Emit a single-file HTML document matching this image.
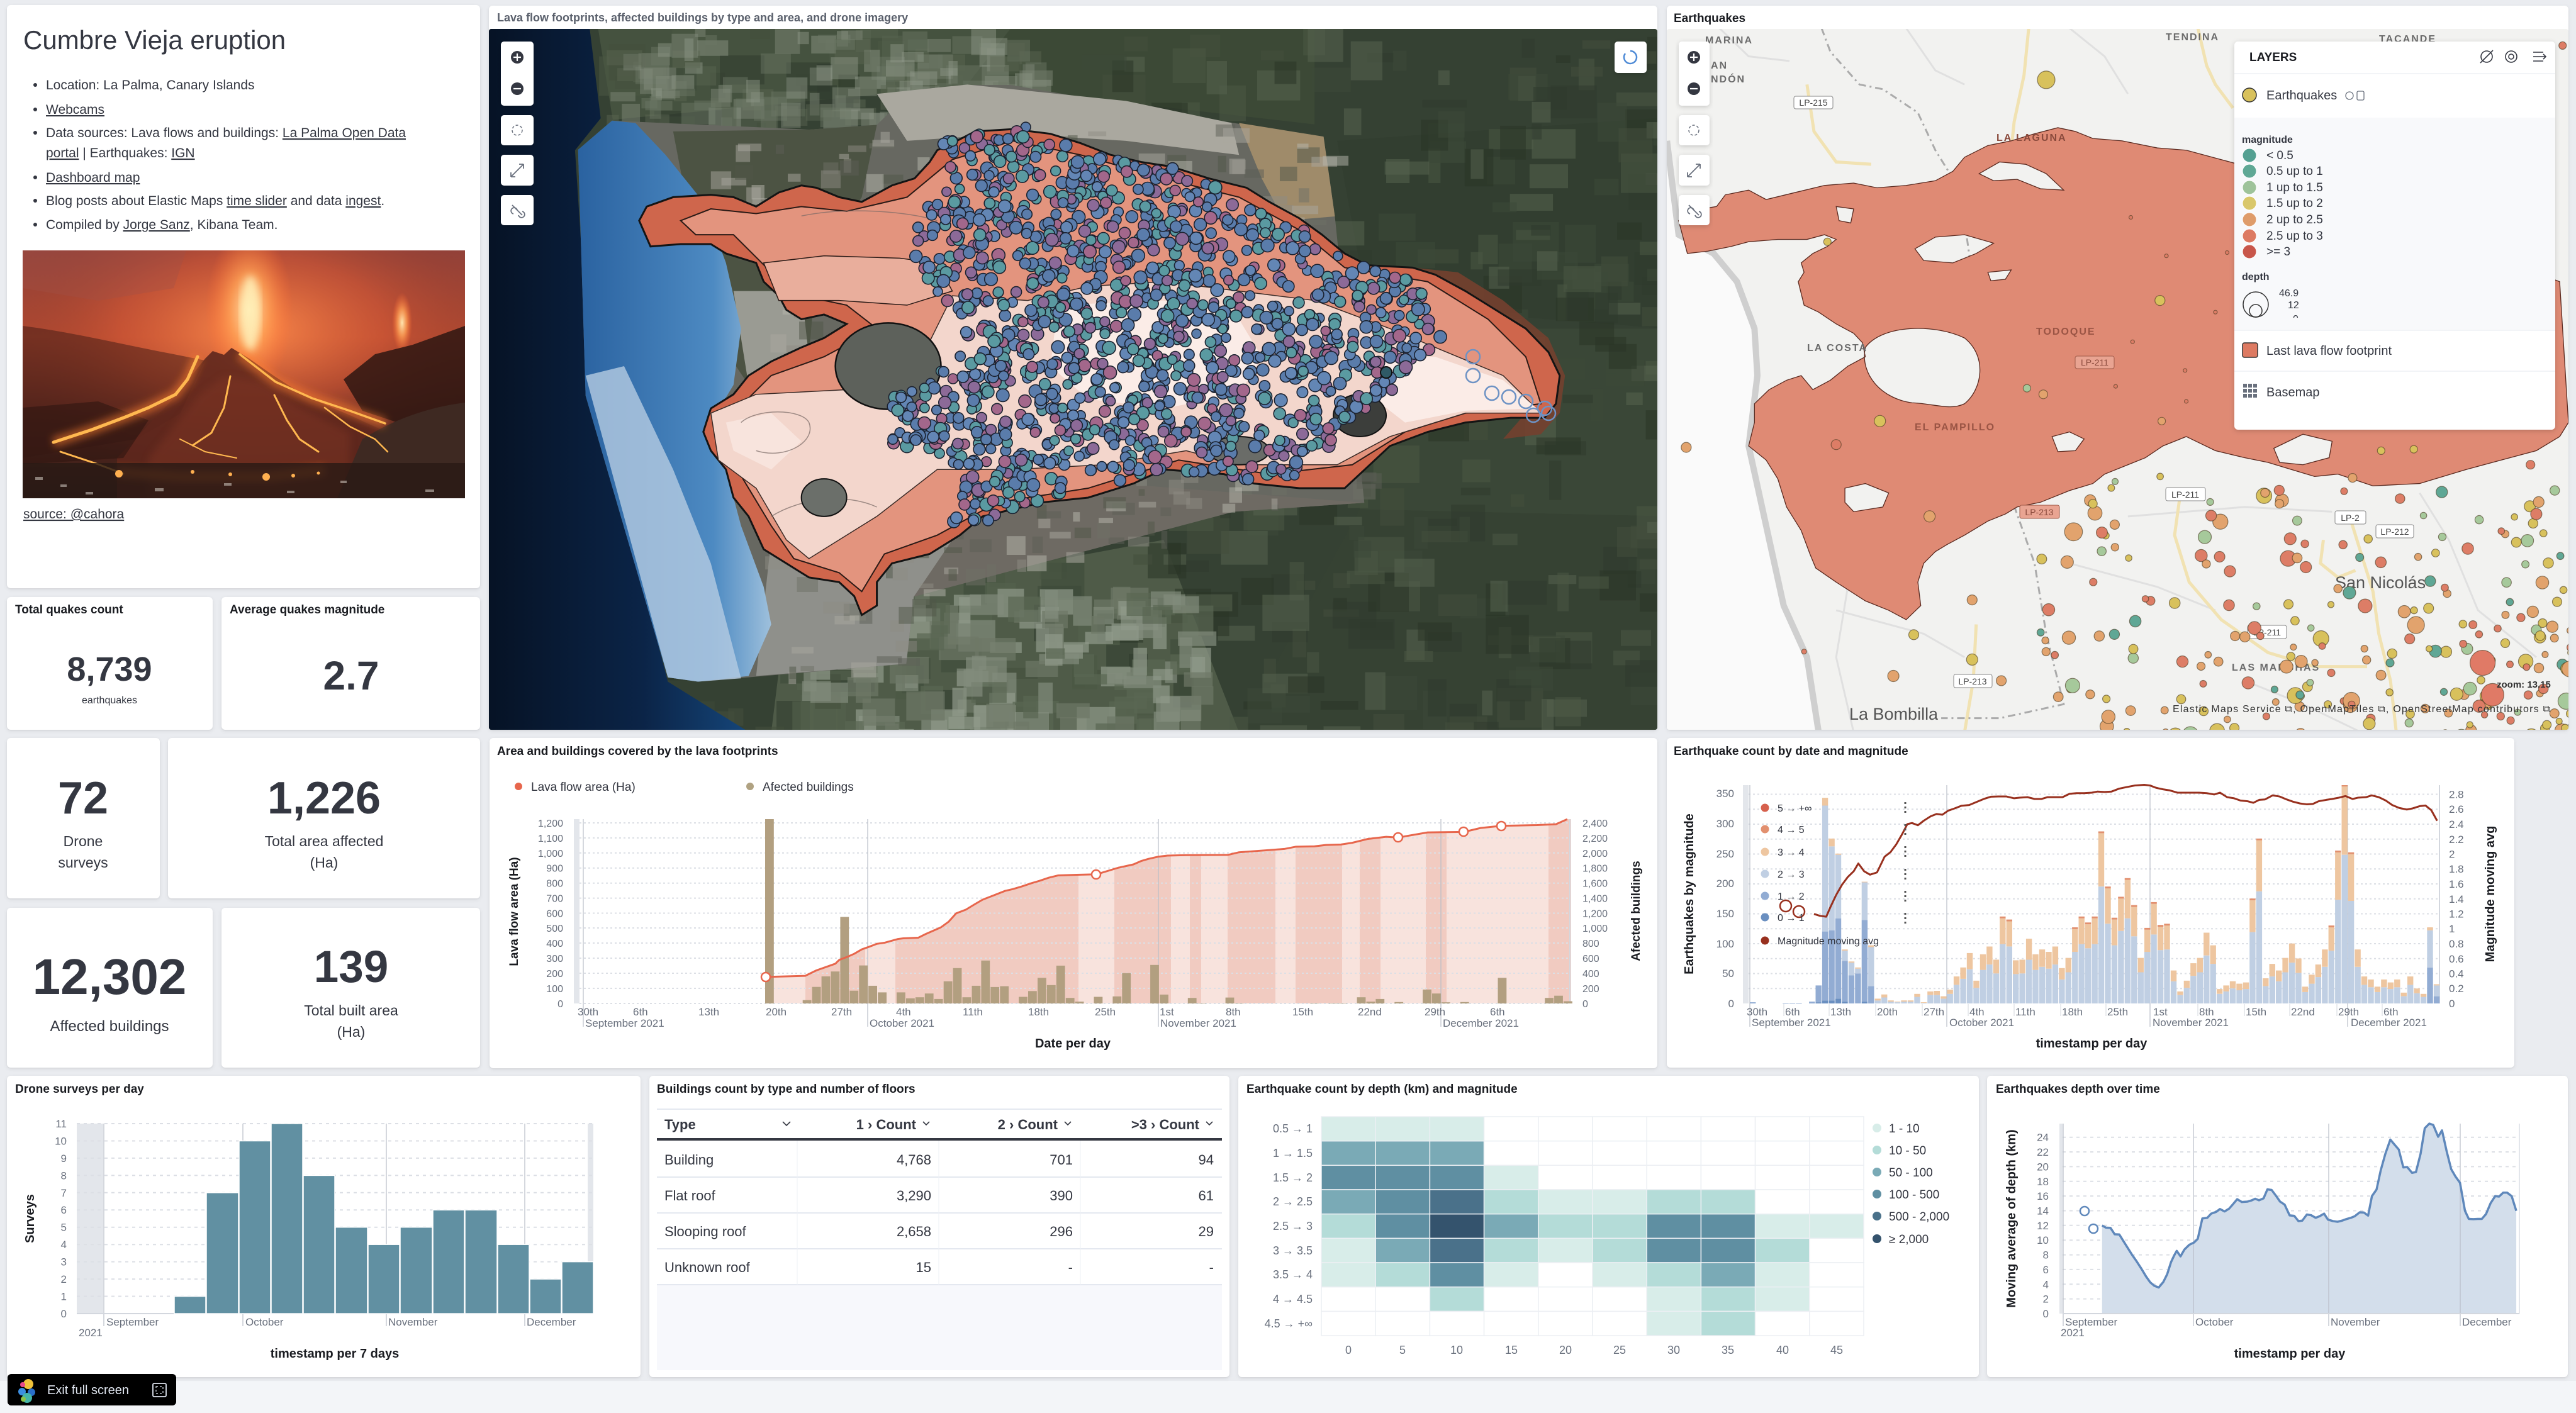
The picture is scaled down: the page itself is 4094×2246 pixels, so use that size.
<!DOCTYPE html>
<html><head><meta charset="utf-8"><title>Cumbre Vieja eruption</title>
<style>
html,body{margin:0;padding:0}
body{width:4094px;height:2246px;position:relative;overflow:hidden;background:#eaecf0;font-family:"Liberation Sans",Arial,sans-serif}
.p{position:absolute;background:#fff;border-radius:6px;box-shadow:0 1px 2px rgba(0,0,0,.05),0 2px 7px rgba(0,0,0,.08)}
#main{position:absolute;left:0;top:0}
#bot{position:absolute;left:0;top:2195px;width:4094px;height:51px;background:#f3f5f8}
</style></head><body>
<div id="bot"></div>
<div class="p" style="left:11px;top:8px;width:752px;height:927px"></div>
<div class="p" style="left:777px;top:9px;width:1857px;height:1151px"></div>
<div class="p" style="left:2649px;top:9px;width:1433px;height:1151px"></div>
<div class="p" style="left:11px;top:949px;width:327px;height:211px"></div>
<div class="p" style="left:352px;top:949px;width:411px;height:211px"></div>
<div class="p" style="left:11px;top:1173px;width:243px;height:255px"></div>
<div class="p" style="left:267px;top:1173px;width:496px;height:255px"></div>
<div class="p" style="left:11px;top:1443px;width:327px;height:254px"></div>
<div class="p" style="left:352px;top:1443px;width:411px;height:254px"></div>
<div class="p" style="left:778px;top:1173px;width:1856px;height:525px"></div>
<div class="p" style="left:2649px;top:1173px;width:1347px;height:524px"></div>
<div class="p" style="left:11px;top:1710px;width:1007px;height:479px"></div>
<div class="p" style="left:1032px;top:1710px;width:922px;height:479px"></div>
<div class="p" style="left:1968px;top:1710px;width:1177px;height:479px"></div>
<div class="p" style="left:3158px;top:1710px;width:923px;height:479px"></div>

<svg id="main" width="4094" height="2246" viewBox="0 0 4094 2246" font-family="Liberation Sans, Arial, sans-serif" fill="#343741">
<defs>
<clipPath id="clipC"><rect x="777" y="46" width="1857" height="1114" rx="4"/></clipPath>
<clipPath id="clipR"><rect x="2649" y="46" width="1433" height="1114" rx="4"/></clipPath>
<clipPath id="clipE"><rect x="2779" y="1248" width="1099" height="348"/></clipPath>
<filter id="sh" x="-10%" y="-10%" width="120%" height="130%"><feDropShadow dx="0" dy="2" stdDeviation="4" flood-color="#000" flood-opacity=".18"/></filter>
<filter id="bl"><feGaussianBlur stdDeviation="6"/></filter>
<filter id="bl2"><feGaussianBlur stdDeviation="14"/></filter>
<linearGradient id="ocean" x1="0" y1="0" x2="1" y2="0"><stop offset="0" stop-color="#061224"/><stop offset=".6" stop-color="#0b2447"/><stop offset="1" stop-color="#15467a"/></linearGradient>
<linearGradient id="docean" x1="0" y1="0" x2="1" y2="0"><stop offset="0" stop-color="#2a62a0"/><stop offset=".7" stop-color="#4d8ac2"/><stop offset="1" stop-color="#9ec0dc"/></linearGradient>
<linearGradient id="vsky" x1="0" y1="0" x2="0" y2="1"><stop offset="0" stop-color="#93423a"/><stop offset=".35" stop-color="#b24a31"/><stop offset=".7" stop-color="#5c2a21"/><stop offset="1" stop-color="#2e1a15"/></linearGradient>
<radialGradient id="vglow" cx=".52" cy=".32" r=".6"><stop offset="0" stop-color="#ff8e4c" stop-opacity=".95"/><stop offset=".5" stop-color="#d85a36" stop-opacity=".55"/><stop offset="1" stop-color="#7a3026" stop-opacity="0"/></radialGradient>
<radialGradient id="vplume" cx=".5" cy=".5" r=".5"><stop offset="0" stop-color="#ffe6b0"/><stop offset=".45" stop-color="#ffa055" stop-opacity=".8"/><stop offset="1" stop-color="#ff6a30" stop-opacity="0"/></radialGradient>
<clipPath id="afc"><path transform="matrix(1.1992,0,0,0.3508,770,1160)" d="M373,1120 L425,1115 L440,1090 L455,1072 L465,1060 L470,1043 L480,1030 L490,1015 L500,995 L510,983 L520,970 L530,965 L548,948 L555,945 L575,942 L585,925 L595,910 L605,895 L615,870 L625,832 L638,815 L650,790 L660,770 L675,750 L690,730 L700,722 L712,710 L725,695 L735,685 L748,670 L760,660 L785,657 L811,655 L840,625 L860,610 L870,595 L880,585 L893,575 L905,570 L930,568 L985,567 L1000,555 L1020,550 L1040,545 L1060,540 L1075,530 L1100,528 L1115,522 L1135,520 L1150,512 L1170,495 L1195,485 L1211,488 L1250,465 L1298,463 L1320,445 L1348,435 L1395,432 L1420,428 L1435,405 L1440,405 L1440,1240 L373,1240 Z"/></clipPath>
</defs>

<!-- ============ PANEL 1 TEXT ============ -->
<text x="37" y="78" font-size="42">Cumbre Vieja eruption</text>
<g font-size="21">
<circle cx="56" cy="135" r="3"/><text x="73" y="142">Location: La Palma, Canary Islands</text>
<circle cx="56" cy="174" r="3"/><text x="73" y="181" text-decoration="underline">Webcams</text>
<circle cx="56" cy="211" r="3"/><text x="73" y="218">Data sources: Lava flows and buildings: <tspan text-decoration="underline">La Palma Open Data</tspan></text>
<text x="73" y="250"><tspan text-decoration="underline">portal</tspan> | Earthquakes: <tspan text-decoration="underline">IGN</tspan></text>
<circle cx="56" cy="282" r="3"/><text x="73" y="289" text-decoration="underline">Dashboard map</text>
<circle cx="56" cy="319" r="3"/><text x="73" y="326">Blog posts about Elastic Maps <tspan text-decoration="underline">time slider</tspan> and data <tspan text-decoration="underline">ingest</tspan>.</text>
<circle cx="56" cy="357" r="3"/><text x="73" y="364">Compiled by <tspan text-decoration="underline">Jorge Sanz</tspan>, Kibana Team.</text>
<text x="37" y="824" text-decoration="underline">source: @cahora</text>
</g>
<svg x="36" y="398" width="703" height="394" viewBox="0 0 703 394">
<rect width="703" height="394" fill="url(#vsky)"/>
<rect width="703" height="394" fill="url(#vglow)"/>
<path d="M0,120 C80,130 160,150 240,165 L290,175 L250,260 L180,300 L0,330 Z" fill="#3e1a14" opacity=".5"/>
<path d="M0,0 L260,0 L240,60 L120,80 L0,60 Z" fill="#a05048" opacity=".35"/>
<ellipse cx="360" cy="95" rx="70" ry="130" fill="url(#vplume)"/>
<ellipse cx="362" cy="100" rx="16" ry="60" fill="#fff0b8" opacity=".85" filter="url(#bl)"/>
<ellipse cx="603" cy="115" rx="16" ry="48" fill="url(#vplume)"/>
<path d="M150,330 L240,235 L290,172 L302,160 L320,166 L332,155 L360,172 L400,200 L450,232 L520,262 L570,285 L570,394 L150,394 Z" fill="#5e271d" opacity=".9"/>
<path d="M200,330 L280,230 L320,200 L380,210 L440,250 L520,290 L520,394 L200,394 Z" fill="#8a3a28" opacity=".35" filter="url(#bl)"/>
<path d="M510,205 L560,165 L620,150 L703,120 L703,245 L600,275 L540,255 Z" fill="#2e1612" opacity=".85"/>
<path d="M540,300 C600,262 660,247 703,242 L703,394 L500,394 Z" fill="#3e2922"/>
<path d="M0,250 L120,240 L200,270 L160,330 L0,340 Z" fill="#2e1511" opacity=".6"/>
<g fill="none" stroke="#ff8030" stroke-opacity=".55" stroke-width="16" filter="url(#bl)">
<path d="M278,169 L262,205 L243,229 L200,250 L163,265 L110,285 L49,305"/>
<path d="M345,165 L402,209 L460,235 L520,255 L576,275"/>
<path d="M150,352 L250,360 L390,360 L480,350"/>
</g>
<g fill="none" stroke="#ffb850" stroke-linecap="round">
<path d="M278,169 L262,205 L243,229 L200,250 L163,265 L110,285 L49,305" stroke-width="5"/>
<path d="M345,165 L402,209 L460,235 L520,255 L576,275" stroke-width="3.5"/>
<path d="M330,200 L320,250 L300,290 L270,310" stroke-width="3"/>
<path d="M400,230 L420,270 L440,300 L470,320" stroke-width="3"/>
<path d="M480,250 L520,280 L560,300 L580,320" stroke-width="2.5"/>
<path d="M60,320 L120,340 L160,355" stroke-width="3"/>
<path d="M250,300 L290,320 L340,330" stroke-width="2"/>
</g>
<rect y="338" width="703" height="56" fill="#2a1a15" opacity=".82"/>
<g fill="#ffb050"><circle cx="153" cy="355" r="6"/><circle cx="387" cy="360" r="6"/><circle cx="270" cy="352" r="3"/><circle cx="430" cy="358" r="3"/><circle cx="470" cy="354" r="2.5"/><circle cx="330" cy="356" r="3"/></g>
<g fill="#c8c0b8" opacity=".6"><rect x="20" y="360" width="12" height="5"/><rect x="60" y="372" width="10" height="4"/><rect x="210" y="378" width="14" height="5"/><rect x="320" y="370" width="12" height="4"/><rect x="505" y="366" width="10" height="4"/><rect x="640" y="380" width="14" height="4"/><rect x="100" y="384" width="12" height="4"/><rect x="420" y="382" width="12" height="4"/></g>
</svg>

<!-- ============ METRICS ============ -->
<g font-size="19" font-weight="bold" fill="#1a1c21">
<text x="24" y="975">Total quakes count</text>
<text x="365" y="975">Average quakes magnitude</text>
</g>
<g text-anchor="middle" font-weight="bold" fill="#343741">
<text x="174" y="1082" font-size="54">8,739</text>
<text x="558" y="1096" font-size="64">2.7</text>
<text x="132" y="1293" font-size="72">72</text>
<text x="515" y="1293" font-size="72">1,226</text>
<text x="174" y="1580" font-size="80">12,302</text>
<text x="558" y="1561" font-size="71">139</text>
</g>
<g text-anchor="middle" fill="#343741">
<text x="174" y="1118" font-size="16">earthquakes</text>
<text x="132" y="1345" font-size="23">Drone</text>
<text x="132" y="1379" font-size="23">surveys</text>
<text x="515" y="1345" font-size="23">Total area affected</text>
<text x="515" y="1379" font-size="23">(Ha)</text>
<text x="174" y="1639" font-size="24">Affected buildings</text>
<text x="558" y="1614" font-size="23">Total built area</text>
<text x="558" y="1648" font-size="23">(Ha)</text>
</g>

<!-- ============ CENTER MAP ============ -->
<text x="790" y="34" font-size="18" font-weight="bold" fill="#5a606c">Lava flow footprints, affected buildings by type and area, and drone imagery</text>
<g clip-path="url(#clipC)">
<g transform="matrix(1.1992,0,0,0.7462,770,0)">
<rect x="0" y="55" width="1570" height="1510" fill="#354133"/>
<path d="M150,55 L720,55 L660,180 L170,255 Z" fill="#45523f"/>
<path d="M700,55 L1100,55 L1100,265 L640,180 Z" fill="#3c4936"/>
<path d="M1130,300 L1568,250 L1568,700 L1170,650 Z" fill="#323e30"/>
<path d="M1170,700 L1568,700 L1568,1100 L1160,1085 Z" fill="#3a4737"/>
<path d="M400,1300 L900,1150 L1000,1560 L380,1560 Z" fill="#4f5b48"/>
<path d="M1160,1085 L1568,1100 L1568,1560 L1000,1560 Z" fill="#364233"/>
<g id="sat"></g>
<path d="M0,55 L139,55 L150,200 L154,252 L120,320 L140,820 L243,1452 L351,1560 L0,1560 Z" fill="url(#ocean)"/>
<path d="M169,257 L430,276 L520,266 L559,205 L638,181 L697,181 L993,262 L1112,291 L1127,461 L1166,1071 L993,1090 L569,1271 L559,1414 L283,1452 L243,1443 L134,843 L124,319 Z" fill="#676861"/>
<path d="M250,280 L430,276 L520,266 L500,420 L440,560 L430,760 L350,820 L300,700 Z" fill="#4c5343"/>
<path d="M520,200 L640,180 L850,215 L990,262 L1000,330 L850,300 L700,285 L560,300 Z" fill="#aaa89f"/>
<path d="M1000,262 L1112,291 L1127,461 L1060,470 L1030,380 Z" fill="#9f8b6a"/>
<path d="M600,1000 L1166,1071 L993,1090 L569,1271 Z" fill="#6e6a63"/>
<path d="M380,1150 L620,1150 L569,1271 L559,1414 L360,1440 Z" fill="#8f908b"/>
<path d="M330,620 L420,620 L430,760 L350,820 Z" fill="#9a9b93"/>
<g id="dtex"></g>
<path d="M169,257 L200,262 L240,330 L290,430 L320,560 L340,700 L330,820 L300,900 L320,1000 L340,1120 L370,1250 L380,1330 L350,1440 L283,1452 L243,1443 L134,843 L124,319 Z" fill="url(#docean)"/>
<path d="M134,800 L185,780 L250,1000 L300,1200 L340,1445 L283,1452 L243,1443 Z" fill="#b5cce2" opacity=".8"/>
<path d="M1230,570 L1290,580 L1350,640 L1410,720 L1432,800 L1425,880 L1400,925 L1350,935 L1380,880 L1400,820 L1370,740 L1320,680 Z" fill="#74402f" opacity=".9"/>
<path d="M205,470 L215,440 L250,420 L300,415 L330,420 L360,440 L390,410 L420,395 L440,400 L470,420 L500,430 L540,395 L570,380 L590,345 L600,320 L620,305 L650,280 L700,275 L750,285 L790,305 L830,330 L870,345 L910,355 L960,380 L1010,400 L1040,430 L1080,465 L1110,500 L1140,540 L1170,565 L1230,570 L1260,585 L1300,620 L1340,660 L1380,700 L1410,750 L1425,800 L1420,860 L1405,890 L1360,890 L1300,900 L1250,920 L1200,950 L1160,1010 L1140,1040 L1080,1040 L1020,1030 L980,1010 L900,1000 L860,1030 L800,1060 L740,1070 L700,1085 L660,1100 L630,1140 L590,1180 L540,1200 L520,1240 L520,1290 L500,1310 L490,1270 L470,1240 L430,1230 L400,1200 L370,1170 L350,1100 L330,1060 L320,1000 L300,960 L290,920 L300,870 L330,840 L350,800 L380,770 L420,740 L450,720 L480,690 L450,670 L420,680 L400,660 L390,630 L370,600 L360,560 L320,540 L300,520 L260,520 L220,525 Z" fill="#cf664c" stroke="#141414" stroke-width="3" vector-effect="non-scaling-stroke"/>
<path d="M260,470 L300,445 L360,455 L420,440 L480,450 L560,420 L620,340 L700,300 L790,330 L900,380 L1000,420 L1080,490 L1140,570 L1250,600 L1330,680 L1380,760 L1400,860 L1300,880 L1220,920 L1150,990 L1040,1010 L920,980 L800,1040 L680,1070 L600,1140 L530,1180 L500,1260 L470,1220 L410,1190 L380,1120 L350,1040 L320,960 L330,880 L380,800 L450,760 L520,700 L480,650 L420,630 L380,580 L330,500 L280,500 Z" fill="#e3947e" stroke="#2a1a16" stroke-width="2" vector-effect="non-scaling-stroke"/>
<path d="M370,560 L450,545 L550,550 L600,560 L620,620 L560,650 L470,640 L390,640 Z" fill="#e9ae9c" stroke="#2a1a16" stroke-width="1.5" vector-effect="non-scaling-stroke"/>
<path d="M300,880 L360,840 L480,830 L540,870 L580,760 L620,630 L720,640 L800,610 L900,600 L1000,620 L1100,640 L1200,700 L1260,740 L1350,800 L1400,880 L1300,880 L1200,930 L1130,990 L1000,990 L930,960 L820,990 L700,1000 L600,1000 L520,1100 L430,1190 L400,1150 L360,1040 L310,980 Z" fill="#f3d6cc" stroke="#3a2a26" stroke-width="1.5" vector-effect="non-scaling-stroke"/>
<path d="M760,650 L900,640 L1000,680 L1030,760 L1000,840 L900,870 L800,850 L750,780 Z" fill="#fbece7"/>
<path d="M1180,760 L1260,760 L1350,810 L1395,870 L1300,875 L1220,900 L1180,850 Z" fill="#fbece7"/>
<path d="M320,900 L380,880 L420,940 L380,1000 L330,960 Z" fill="#f8e4dd"/>
<g fill="none" stroke="#7a6a66" stroke-width="1.5" opacity=".7"><path d="M340,900 C360,870 420,870 430,900 C440,940 400,980 360,960" vector-effect="non-scaling-stroke"/><path d="M380,1100 C420,1060 480,1050 520,1080" vector-effect="non-scaling-stroke"/><path d="M420,460 C480,440 560,450 600,470" vector-effect="non-scaling-stroke"/></g>
<ellipse cx="535" cy="780" rx="70" ry="92" fill="#5d615b" stroke="#111" stroke-width="2.5" vector-effect="non-scaling-stroke"/>
<ellipse cx="1160" cy="885" rx="35" ry="45" fill="#3c3e3b" stroke="#111" stroke-width="2" vector-effect="non-scaling-stroke"/>
<ellipse cx="1000" cy="960" rx="40" ry="30" fill="#6a6c68" stroke="#111" stroke-width="2" vector-effect="non-scaling-stroke"/>
<ellipse cx="450" cy="1060" rx="30" ry="40" fill="#6b6f6a" stroke="#111" stroke-width="2" vector-effect="non-scaling-stroke"/>
</g>
<g id="cdots"></g>
<g fill="none" stroke="#6d92c4" stroke-width="2.5">
<circle cx="2341" cy="567" r="11"/><circle cx="2341" cy="597" r="11"/><circle cx="2371" cy="625" r="11"/><circle cx="2398" cy="631" r="11"/><circle cx="2425" cy="638" r="11"/><circle cx="2455" cy="649" r="11"/><circle cx="2437" cy="660" r="11"/><circle cx="2461" cy="657" r="11"/>
</g>
<circle cx="2203" cy="592" r="9" fill="#2f5a66" stroke="#111" stroke-width="2"/>
</g>
<!-- map controls -->
<g filter="url(#sh)" fill="#fff">
<rect x="796" y="66" width="52" height="102" rx="5"/><rect x="796" y="183" width="52" height="48" rx="5"/><rect x="796" y="246" width="52" height="49" rx="5"/><rect x="796" y="310" width="52" height="48" rx="5"/>
<rect x="2566" y="66" width="51" height="50" rx="5"/>
</g>
<g>
<circle cx="822" cy="91" r="10" fill="#343741"/><path d="M816,91 H828 M822,85 V97" stroke="#fff" stroke-width="2.2"/>
<circle cx="822" cy="141" r="10" fill="#343741"/><path d="M816,141 H828" stroke="#fff" stroke-width="2.2"/>
<circle cx="822" cy="207" r="8" fill="none" stroke="#69707d" stroke-width="1.5" stroke-dasharray="4,3"/>
<path d="M812,281 L832,261 M832,261 h-7 M832,261 v7 M812,281 h7 M812,281 v-7" stroke="#69707d" stroke-width="1.8" fill="none"/>
<path d="M814,326 l8,8 l8,8 M816,340 a5,5 0 1,1 6,-6 M830,336 a5,5 0 1,1 -6,6" stroke="#69707d" stroke-width="1.8" fill="none"/>
<path d="M2591,81 a10,10 0 1,1 -8,4" stroke="#4d8ad6" stroke-width="2.5" fill="none"/>
</g>

<!-- ============ RIGHT MAP ============ -->
<text x="2660" y="35" font-size="19" font-weight="bold" fill="#1a1c21">Earthquakes</text>
<g clip-path="url(#clipR)">
<rect x="2649" y="46" width="1433" height="1114" fill="#f2f2f0"/>
<g transform="matrix(0.9273,0,0,0.7462,2640,0)">
<path d="M0,60 L0,1560 L270,1560 L250,1400 L210,1290 L150,950 L165,800 L160,700 L130,600 L90,540 L30,500 L10,300 L0,60 Z" fill="#fafafa"/>
<path d="M10,300 L30,500 L90,540 L130,600 L160,700 L165,800 L150,950 L210,1290 L250,1400 L270,1560" fill="none" stroke="#cfcfcf" stroke-width="10" vector-effect="non-scaling-stroke"/>
<g fill="none" stroke="#e0e0e0" stroke-width="3">
<path d="M700,60 L760,120 L800,200" vector-effect="non-scaling-stroke"/><path d="M100,60 L150,120 L220,130" vector-effect="non-scaling-stroke"/><path d="M800,1100 L1000,1080 L1150,1090" vector-effect="non-scaling-stroke"/><path d="M700,1200 L850,1250 L950,1300" vector-effect="non-scaling-stroke"/><path d="M1300,1050 L1350,1150 L1400,1300 L1500,1400" vector-effect="non-scaling-stroke"/><path d="M1000,1450 L1100,1500 L1200,1560" vector-effect="non-scaling-stroke"/><path d="M300,1300 L450,1350 L520,1400" vector-effect="non-scaling-stroke"/><path d="M320,1250 L300,1400 L330,1560" vector-effect="non-scaling-stroke"/><path d="M420,60 L470,150 L520,180" vector-effect="non-scaling-stroke"/>
</g>
<g fill="none" stroke="#f1e2b2" stroke-width="5">
<path d="M630,60 L622,160 L605,260 L600,320" vector-effect="non-scaling-stroke"/>
<path d="M250,180 L262,280 L300,345 L360,350" vector-effect="non-scaling-stroke"/>
<path d="M890,1050 L880,1140 L905,1240 L960,1320 L1040,1390 L1120,1420 L1210,1420" vector-effect="non-scaling-stroke"/>
<path d="M1180,1100 L1195,1160 L1220,1260 L1230,1350 L1250,1450 L1260,1560" vector-effect="non-scaling-stroke"/>
<path d="M540,1330 L535,1450 L520,1560" vector-effect="non-scaling-stroke"/>
<path d="M1135,1150 L1130,1200 L1160,1230 L1190,1215" vector-effect="non-scaling-stroke"/>
<path d="M920,60 L935,140 L950,180 L980,230" vector-effect="non-scaling-stroke"/>
</g>
<path d="M275,60 L290,110 L340,180 L380,190 L440,240 L470,320 L510,400 L520,470 L530,560 L540,680 L560,800 L580,950 L600,1060 L640,1200 L660,1350 L690,1500 L580,1530 L480,1530" fill="none" stroke="#ababab" stroke-width="3" stroke-dasharray="12,6,3,6" vector-effect="non-scaling-stroke"/>
<path fill-rule="evenodd" fill="#df8a74" stroke="#5a2a20" stroke-width="1.3" vector-effect="non-scaling-stroke" d="M30,470 L45,450 L95,440 L110,415 L150,405 L180,425 L230,410 L280,395 L330,390 L370,400 L420,395 L470,385 L500,365 L520,335 L560,310 L600,300 L640,285 L680,272 L710,280 L740,295 L790,300 L850,315 L900,320 L960,340 L990,350 L1540,600 L1555,900 L1540,930 L1500,960 L1440,980 L1380,1000 L1300,1030 L1220,1035 L1160,1010 L1120,1015 L1080,1000 L1040,985 L1000,975 L950,960 L900,930 L860,950 L830,975 L800,990 L760,1010 L740,1030 L700,1045 L650,1070 L610,1080 L590,1095 L560,1110 L520,1140 L490,1160 L470,1175 L450,1200 L440,1240 L445,1290 L420,1320 L390,1300 L350,1280 L300,1240 L265,1210 L255,1180 L240,1130 L215,1080 L200,1020 L180,980 L150,950 L160,900 L160,860 L185,830 L215,810 L240,800 L260,830 L290,810 L320,780 L350,760 L345,730 L330,710 L300,690 L270,665 L245,650 L235,600 L245,580 L240,560 L260,540 L285,525 L300,510 L280,500 L250,510 L200,510 L150,515 L120,525 L80,535 L45,540 Z M350,740 C380,690 470,690 520,720 C560,760 550,830 520,860 C495,875 470,860 430,858 C380,850 340,800 350,740 Z M545,370 L580,345 L625,350 L660,370 L690,405 L650,402 L610,382 L570,385 Z M435,530 L470,505 L520,500 L570,518 L540,540 L500,560 L450,555 Z M315,1040 L350,1030 L390,1050 L380,1080 L330,1090 L315,1070 Z M670,930 L700,920 L725,935 L710,960 L680,962 Z M1050,955 L1100,925 L1150,940 L1145,975 L1100,990 L1060,985 Z M300,440 L330,445 L325,475 L305,470 Z M560,580 L600,575 L590,595 L565,598 Z"/>
</g>
<g font-size="16" font-weight="bold" letter-spacing="2" fill="#6b6b6b">
<text x="2710" y="69">MARINA</text>
<text x="2719" y="109">AN</text>
<text x="2719" y="131">NDÓN</text>
<text x="3442" y="64">TENDINA</text>
<text x="3781" y="67">TACANDE</text>
<text x="2872" y="558">LA COSTA</text>
<text x="3547" y="1066">LAS MANCHAS</text>
<text x="3173" y="224" fill="#8a4a3c">LA LAGUNA</text>
<text x="3236" y="532" fill="#9a5444">TODOQUE</text>
<text x="3043" y="684" fill="#9a5444">EL PAMPILLO</text>
</g>
<text x="3711" y="935" font-size="27" fill="#555">San Nicolás</text>
<text x="2939" y="1144" font-size="27" fill="#555">La Bombilla</text>
<g font-size="14" text-anchor="middle" fill="#444">
<rect x="2851" y="153" width="62" height="20" rx="3" fill="#fff" stroke="#888"/><text x="2882" y="168">LP-215</text>
<rect x="3298" y="566" width="62" height="20" rx="3" fill="#e9a492" stroke="#a05a48"/><text x="3329" y="581" fill="#8a4a3c">LP-211</text>
<rect x="3442" y="775" width="63" height="21" rx="3" fill="#fff" stroke="#888"/><text x="3473" y="791">LP-211</text>
<rect x="3210" y="803" width="63" height="21" rx="3" fill="#e9a492" stroke="#a05a48"/><text x="3241" y="819" fill="#8a4a3c">LP-213</text>
<rect x="3711" y="812" width="49" height="21" rx="3" fill="#fff" stroke="#888"/><text x="3735" y="828">LP-2</text>
<rect x="3776" y="834" width="60" height="21" rx="3" fill="#fff" stroke="#888"/><text x="3806" y="850">LP-212</text>
<rect x="3572" y="994" width="62" height="21" rx="3" fill="#fff" stroke="#888"/><text x="3603" y="1010">LP-211</text>
<rect x="3105" y="1072" width="61" height="21" rx="3" fill="#fff" stroke="#888"/><text x="3135" y="1088">LP-213</text>
</g>
<g id="rdots"></g>
<text x="3968" y="1093" font-size="15" font-weight="bold" fill="#333">zoom: 13.15</text>
<text x="3453" y="1132" font-size="16" fill="#333" textLength="600">Elastic Maps Service ⧉, OpenMapTiles ⧉, OpenStreetMap contributors ⧉</text>
</g>
<g filter="url(#sh)" fill="#fff">
<rect x="2668" y="66" width="49" height="102" rx="5"/><rect x="2668" y="183" width="49" height="48" rx="5"/><rect x="2668" y="246" width="49" height="49" rx="5"/><rect x="2668" y="310" width="49" height="48" rx="5"/>
</g>
<circle cx="2692" cy="91" r="10" fill="#343741"/><path d="M2686,91 H2698 M2692,85 V97" stroke="#fff" stroke-width="2.2"/>
<circle cx="2692" cy="141" r="10" fill="#343741"/><path d="M2686,141 H2698" stroke="#fff" stroke-width="2.2"/>
<circle cx="2692" cy="207" r="8" fill="none" stroke="#69707d" stroke-width="1.5" stroke-dasharray="4,3"/>
<path d="M2682,281 L2702,261 M2702,261 h-7 M2702,261 v7 M2682,281 h7 M2682,281 v-7" stroke="#69707d" stroke-width="1.8" fill="none"/>
<path d="M2684,326 l8,8 l8,8 M2686,340 a5,5 0 1,1 6,-6 M2700,336 a5,5 0 1,1 -6,6" stroke="#69707d" stroke-width="1.8" fill="none"/>
<!-- layers panel -->
<g filter="url(#sh)"><rect x="3551" y="66" width="510" height="617" rx="6" fill="#fff"/></g>
<rect x="3551" y="187" width="510" height="328" fill="#f8f9fb"/>
<g stroke="#e6e9ef"><line x1="3551" y1="117" x2="4061" y2="117"/><line x1="3551" y1="525" x2="4061" y2="525"/><line x1="3551" y1="590" x2="4061" y2="590"/></g>
<text x="3575" y="97" font-size="19" font-weight="bold" fill="#1a1c21">LAYERS</text>
<g fill="none" stroke="#343741" stroke-width="1.6">
<circle cx="3952" cy="90" r="9"/><path d="M3942,100 L3962,80"/>
<circle cx="3991" cy="90" r="9"/><circle cx="3991" cy="90" r="4"/>
<path d="M4026,83 h16 M4026,90 h20 M4026,97 h16 M4042,86 l4,4 l-4,4"/>
</g>
<circle cx="3575" cy="151" r="11" fill="#d8c15c" stroke="#333" stroke-width="1.5"/>
<text x="3602" y="158" font-size="20">Earthquakes</text>
<circle cx="3734" cy="152" r="6" fill="none" stroke="#69707d" stroke-width="1.3"/><rect x="3746" y="145" width="11" height="14" rx="2" fill="none" stroke="#69707d" stroke-width="1.3"/>
<text x="3563" y="227" font-size="16" font-weight="bold">magnitude</text>
<g stroke="#fff" stroke-width="1">
<circle cx="3575" cy="247" r="11" fill="#54a092"/><circle cx="3575" cy="272" r="11" fill="#5fa895"/><circle cx="3575" cy="298" r="11" fill="#9ec39a"/><circle cx="3575" cy="323" r="11" fill="#d9c76a"/><circle cx="3575" cy="349" r="11" fill="#df9c6a"/><circle cx="3575" cy="375" r="11" fill="#dd7a62"/><circle cx="3575" cy="400" r="11" fill="#c8564a"/>
</g>
<g font-size="19">
<text x="3602" y="253">&lt; 0.5</text><text x="3602" y="278">0.5 up to 1</text><text x="3602" y="304">1 up to 1.5</text><text x="3602" y="329">1.5 up to 2</text><text x="3602" y="355">2 up to 2.5</text><text x="3602" y="381">2.5 up to 3</text><text x="3602" y="406">&gt;= 3</text>
</g>
<text x="3563" y="445" font-size="16" font-weight="bold">depth</text>
<circle cx="3585" cy="484" r="20" fill="none" stroke="#333" stroke-width="1.5"/>
<circle cx="3585" cy="494" r="10" fill="none" stroke="#333" stroke-width="1.5"/>
<g font-size="16"><text x="3622" y="471">46.9</text><text x="3636" y="490">12</text><text x="3644" y="512">0</text></g>
<rect x="3551" y="505" width="510" height="19" fill="#f8f9fb"/>
<rect x="3564" y="545" width="24" height="23" rx="3" fill="#dd7a62" stroke="#333" stroke-width="1.5"/>
<text x="3602" y="564" font-size="20">Last lava flow footprint</text>
<g fill="#69707d"><rect x="3565" y="610" width="6" height="6"/><rect x="3573" y="610" width="6" height="6"/><rect x="3581" y="610" width="6" height="6"/><rect x="3565" y="618" width="6" height="6"/><rect x="3573" y="618" width="6" height="6"/><rect x="3581" y="618" width="6" height="6"/><rect x="3565" y="626" width="6" height="6"/><rect x="3573" y="626" width="6" height="6"/><rect x="3581" y="626" width="6" height="6"/></g>
<text x="3602" y="630" font-size="20">Basemap</text>

<!-- ============ AREA CHART ============ -->
<text x="790" y="1200" font-size="19" font-weight="bold" fill="#1a1c21">Area and buildings covered by the lava footprints</text>
<circle cx="824" cy="1250" r="6" fill="#e7664c"/><text x="844" y="1257" font-size="19">Lava flow area (Ha)</text>
<circle cx="1192" cy="1250" r="6" fill="#b0a282"/><text x="1212" y="1257" font-size="19">Afected buildings</text>
<g clip-path="url(#afc)">
<rect x="1210" y="1300" width="1290" height="300" fill="#f1cbc1"/>
<g fill="#f8e3dd"><rect x="1217" y="1300" width="63" height="300"/><rect x="1375" y="1300" width="48" height="300"/><rect x="1714" y="1300" width="57" height="300"/><rect x="1861" y="1300" width="30" height="300"/><rect x="1909" y="1300" width="42" height="300"/><rect x="2027" y="1300" width="32" height="300"/><rect x="2133" y="1300" width="28" height="300"/><rect x="2194" y="1300" width="72" height="300"/><rect x="2299" y="1300" width="162" height="300"/></g>
</g>
<rect x="912" y="1302" width="9" height="293" fill="#e3e6eb"/>
<line x1="2495" y1="1302" x2="2495" y2="1595" stroke="#d3d7de" stroke-width="2"/>
<g stroke="#dcdfe5" stroke-width="2" stroke-dasharray="3,4">
<line x1="921" y1="1595" x2="2495" y2="1595"/><line x1="921" y1="1571" x2="2495" y2="1571"/><line x1="921" y1="1547" x2="2495" y2="1547"/><line x1="921" y1="1523" x2="2495" y2="1523"/><line x1="921" y1="1499" x2="2495" y2="1499"/><line x1="921" y1="1475" x2="2495" y2="1475"/><line x1="921" y1="1451.5" x2="2495" y2="1451.5"/><line x1="921" y1="1427.6" x2="2495" y2="1427.6"/><line x1="921" y1="1403.7" x2="2495" y2="1403.7"/><line x1="921" y1="1379.7" x2="2495" y2="1379.7"/><line x1="921" y1="1355.8" x2="2495" y2="1355.8"/><line x1="921" y1="1331.9" x2="2495" y2="1331.9"/><line x1="921" y1="1308" x2="2495" y2="1308"/>
</g>
<g stroke="#b9bec7" stroke-width="1.2"><line x1="927" y1="1302" x2="927" y2="1632"/><line x1="1379" y1="1302" x2="1379" y2="1632"/><line x1="1841" y1="1302" x2="1841" y2="1632"/><line x1="2290" y1="1302" x2="2290" y2="1632"/></g>
<g id="abars"></g>
<path transform="matrix(1.1992,0,0,0.3508,770,1160)" d="M373,1120 L425,1115 L440,1090 L455,1072 L465,1060 L470,1043 L480,1030 L490,1015 L500,995 L510,983 L520,970 L530,965 L548,948 L555,945 L575,942 L585,925 L595,910 L605,895 L615,870 L625,832 L638,815 L650,790 L660,770 L675,750 L690,730 L700,722 L712,710 L725,695 L735,685 L748,670 L760,660 L785,657 L811,655 L840,625 L860,610 L870,595 L880,585 L893,575 L905,570 L930,568 L985,567 L1000,555 L1020,550 L1040,545 L1060,540 L1075,530 L1100,528 L1115,522 L1135,520 L1150,512 L1170,495 L1195,485 L1211,488 L1250,465 L1298,463 L1320,445 L1348,435 L1395,432 L1420,428 L1435,405" fill="none" stroke="#e7664c" stroke-width="3" stroke-linejoin="round" vector-effect="non-scaling-stroke"/>
<g fill="#fff" stroke="#e7664c" stroke-width="2.5"><circle cx="1217" cy="1553" r="7"/><circle cx="1742" cy="1390" r="7"/><circle cx="2222" cy="1331" r="7"/><circle cx="2326" cy="1322" r="7"/><circle cx="2386" cy="1313" r="7"/></g>
<g font-size="16" fill="#69707d" text-anchor="end">
<text x="895" y="1601">0</text><text x="895" y="1577">100</text><text x="895" y="1553">200</text><text x="895" y="1529">300</text><text x="895" y="1505">400</text><text x="895" y="1481">500</text><text x="895" y="1457.5">600</text><text x="895" y="1433.6">700</text><text x="895" y="1409.7">800</text><text x="895" y="1385.7">900</text><text x="895" y="1361.8">1,000</text><text x="895" y="1338">1,100</text><text x="895" y="1314">1,200</text>
</g>
<g font-size="16" fill="#69707d">
<text x="2515" y="1601">0</text><text x="2515" y="1577">200</text><text x="2515" y="1553">400</text><text x="2515" y="1529">600</text><text x="2515" y="1505">800</text><text x="2515" y="1481">1,000</text><text x="2515" y="1457.5">1,200</text><text x="2515" y="1433.6">1,400</text><text x="2515" y="1409.7">1,600</text><text x="2515" y="1385.7">1,800</text><text x="2515" y="1361.8">2,000</text><text x="2515" y="1338">2,200</text><text x="2515" y="1314">2,400</text>
</g>
<g font-size="17" fill="#69707d">
<text x="918" y="1614">30th</text><text x="1006" y="1614">6th</text><text x="1110" y="1614">13th</text><text x="1217" y="1614">20th</text><text x="1321" y="1614">27th</text><text x="1424" y="1614">4th</text><text x="1530" y="1614">11th</text><text x="1634" y="1614">18th</text><text x="1740" y="1614">25th</text><text x="1843" y="1614">1st</text><text x="1948" y="1614">8th</text><text x="2054" y="1614">15th</text><text x="2158" y="1614">22nd</text><text x="2264" y="1614">29th</text><text x="2368" y="1614">6th</text>
<text x="930" y="1632">September 2021</text><text x="1382" y="1632">October 2021</text><text x="1844" y="1632">November 2021</text><text x="2293" y="1632">December 2021</text>
</g>
<text x="1705" y="1665" font-size="20" font-weight="bold" text-anchor="middle" fill="#1a1c21">Date per day</text>
<text transform="translate(823,1449) rotate(-90)" font-size="19" font-weight="bold" text-anchor="middle" fill="#1a1c21">Lava flow area (Ha)</text>
<text transform="translate(2606,1448) rotate(-90)" font-size="19" font-weight="bold" text-anchor="middle" fill="#1a1c21">Afected buildings</text>

<!-- ============ EQ COUNT CHART ============ -->
<text x="2660" y="1200" font-size="19" font-weight="bold" fill="#1a1c21">Earthquake count by date and magnitude</text>
<rect x="2770" y="1248" width="9" height="347" fill="#e3e6eb"/>
<line x1="3877" y1="1248" x2="3877" y2="1595" stroke="#d3d7de" stroke-width="2"/>
<g stroke="#dcdfe5" stroke-width="2" stroke-dasharray="3,4">
<line x1="2779" y1="1571.25" x2="3876" y2="1571.25"/><line x1="2779" y1="1547.5" x2="3876" y2="1547.5"/><line x1="2779" y1="1523.75" x2="3876" y2="1523.75"/><line x1="2779" y1="1500" x2="3876" y2="1500"/><line x1="2779" y1="1476.25" x2="3876" y2="1476.25"/><line x1="2779" y1="1452.5" x2="3876" y2="1452.5"/><line x1="2779" y1="1428.75" x2="3876" y2="1428.75"/><line x1="2779" y1="1405" x2="3876" y2="1405"/><line x1="2779" y1="1381.25" x2="3876" y2="1381.25"/><line x1="2779" y1="1357.5" x2="3876" y2="1357.5"/><line x1="2779" y1="1333.75" x2="3876" y2="1333.75"/><line x1="2779" y1="1310" x2="3876" y2="1310"/><line x1="2779" y1="1286.25" x2="3876" y2="1286.25"/><line x1="2779" y1="1262.5" x2="3876" y2="1262.5"/>
</g>
<g stroke="#b9bec7" stroke-width="1.2"><line x1="2781" y1="1248" x2="2781" y2="1632"/><line x1="3094" y1="1248" x2="3094" y2="1632"/><line x1="3417" y1="1248" x2="3417" y2="1632"/><line x1="3731" y1="1248" x2="3731" y2="1632"/></g>
<g stroke="#d3d7de" stroke-width="1"><line x1="2835" y1="1596" x2="2835" y2="1615"/><line x1="2907" y1="1596" x2="2907" y2="1615"/><line x1="2981" y1="1596" x2="2981" y2="1615"/><line x1="3055" y1="1596" x2="3055" y2="1615"/><line x1="3128" y1="1596" x2="3128" y2="1615"/><line x1="3201" y1="1596" x2="3201" y2="1615"/><line x1="3275" y1="1596" x2="3275" y2="1615"/><line x1="3347" y1="1596" x2="3347" y2="1615"/><line x1="3493" y1="1596" x2="3493" y2="1615"/><line x1="3567" y1="1596" x2="3567" y2="1615"/><line x1="3639" y1="1596" x2="3639" y2="1615"/><line x1="3714" y1="1596" x2="3714" y2="1615"/><line x1="3786" y1="1596" x2="3786" y2="1615"/></g>
<g id="ebars" clip-path="url(#clipE)"></g>
<path transform="matrix(0.9273,0,0,0.3571,2640,1160)" d="M262,820 L272,828 L283,832 L290,790 L300,735 L310,690 L320,655 L330,630 L338,595 L348,630 L358,645 L370,635 L383,565 L393,545 L403,510 L413,465 L422,420 L430,415 L440,425 L450,405 L462,385 L472,375 L482,378 L492,360 L503,350 L515,338 L528,335 L540,322 L553,308 L565,298 L578,297 L592,297 L605,305 L615,302 L628,300 L640,308 L652,308 L662,300 L675,300 L688,300 L700,285 L712,282 L725,282 L738,280 L748,275 L760,277 L772,275 L785,262 L798,255 L812,248 L828,245 L838,248 L848,258 L860,265 L872,270 L885,280 L897,280 L910,280 L922,280 L935,282 L948,288 L958,280 L970,300 L982,305 L993,315 L1005,318 L1015,325 L1025,312 L1035,310 L1048,292 L1060,297 L1072,310 L1083,320 L1095,328 L1107,332 L1117,330 L1127,318 L1140,312 L1150,308 L1162,302 L1173,295 L1185,308 L1195,302 L1208,300 L1218,292 L1230,300 L1242,315 L1253,335 L1265,348 L1278,355 L1288,350 L1300,340 L1310,337 L1320,358 L1330,405" fill="none" stroke="#98301e" stroke-width="3" stroke-linejoin="round" vector-effect="non-scaling-stroke"/>
<g fill="none" stroke="#98301e" stroke-width="2.5"><circle cx="2838" cy="1440" r="9"/><circle cx="2859" cy="1449" r="9"/></g>
<g font-size="16">
<circle cx="2805" cy="1284" r="6.5" fill="#d6604d"/><text x="2825" y="1290">5 → +∞</text>
<circle cx="2805" cy="1318" r="6.5" fill="#e2906f"/><text x="2825" y="1324">4 → 5</text>
<circle cx="2805" cy="1354" r="6.5" fill="#eec6a0"/><text x="2825" y="1360">3 → 4</text>
<circle cx="2805" cy="1389" r="6.5" fill="#c0cfe3"/><text x="2825" y="1395">2 → 3</text>
<circle cx="2805" cy="1424" r="6.5" fill="#92acd3"/><text x="2825" y="1430">1 → 2</text>
<circle cx="2805" cy="1458" r="6.5" fill="#6a8fc0"/><text x="2825" y="1464">0 → 1</text>
<circle cx="2805" cy="1495" r="6.5" fill="#98301e"/><text x="2825" y="1501">Magnitude moving avg</text>
</g>
<g stroke="#555" stroke-width="3" stroke-dasharray="3,4"><line x1="3028" y1="1275" x2="3028" y2="1293"/><line x1="3028" y1="1310" x2="3028" y2="1328"/><line x1="3028" y1="1345" x2="3028" y2="1363"/><line x1="3028" y1="1381" x2="3028" y2="1399"/><line x1="3028" y1="1416" x2="3028" y2="1434"/><line x1="3028" y1="1451" x2="3028" y2="1469"/></g>
<g font-size="17" fill="#69707d" text-anchor="end">
<text x="2756" y="1601">0</text><text x="2756" y="1553">50</text><text x="2756" y="1506">100</text><text x="2756" y="1458">150</text><text x="2756" y="1410">200</text><text x="2756" y="1363">250</text><text x="2756" y="1315">300</text><text x="2756" y="1267">350</text>
</g>
<g font-size="17" fill="#69707d">
<text x="3892" y="1601">0</text><text x="3892" y="1577">0.2</text><text x="3892" y="1553.5">0.4</text><text x="3892" y="1530">0.6</text><text x="3892" y="1506">0.8</text><text x="3892" y="1482">1</text><text x="3892" y="1458.5">1.2</text><text x="3892" y="1435">1.4</text><text x="3892" y="1411">1.6</text><text x="3892" y="1387">1.8</text><text x="3892" y="1363.5">2</text><text x="3892" y="1340">2.2</text><text x="3892" y="1316">2.4</text><text x="3892" y="1292">2.6</text><text x="3892" y="1268.5">2.8</text>
<text x="2776" y="1614">30th</text><text x="2837" y="1614">6th</text><text x="2909" y="1614">13th</text><text x="2983" y="1614">20th</text><text x="3057" y="1614">27th</text><text x="3130" y="1614">4th</text><text x="3203" y="1614">11th</text><text x="3277" y="1614">18th</text><text x="3349" y="1614">25th</text><text x="3422" y="1614">1st</text><text x="3495" y="1614">8th</text><text x="3569" y="1614">15th</text><text x="3641" y="1614">22nd</text><text x="3716" y="1614">29th</text><text x="3788" y="1614">6th</text>
<text x="2784" y="1631">September 2021</text><text x="3098" y="1631">October 2021</text><text x="3421" y="1631">November 2021</text><text x="3736" y="1631">December 2021</text>
</g>
<text x="3324" y="1665" font-size="20" font-weight="bold" text-anchor="middle" fill="#1a1c21">timestamp per day</text>
<text transform="translate(2691,1421) rotate(-90)" font-size="20" font-weight="bold" text-anchor="middle" fill="#1a1c21">Earthquakes by magnitude</text>
<text transform="translate(3964,1421) rotate(-90)" font-size="20" font-weight="bold" text-anchor="middle" fill="#1a1c21">Magnitude moving avg</text>

<!-- ============ DRONE CHART ============ -->
<text x="24" y="1737" font-size="19" font-weight="bold" fill="#1a1c21">Drone surveys per day</text>
<rect x="122" y="1786" width="42" height="302" fill="#e3e6eb"/>
<rect x="934" y="1786" width="9" height="302" fill="#e3e6eb"/>
<g stroke="#dcdfe5" stroke-width="2" stroke-dasharray="5,6">
<line x1="122" y1="2060.5" x2="943" y2="2060.5"/><line x1="122" y1="2033.1" x2="943" y2="2033.1"/><line x1="122" y1="2005.6" x2="943" y2="2005.6"/><line x1="122" y1="1978.2" x2="943" y2="1978.2"/><line x1="122" y1="1950.7" x2="943" y2="1950.7"/><line x1="122" y1="1923.3" x2="943" y2="1923.3"/><line x1="122" y1="1895.8" x2="943" y2="1895.8"/><line x1="122" y1="1868.4" x2="943" y2="1868.4"/><line x1="122" y1="1840.9" x2="943" y2="1840.9"/><line x1="122" y1="1813.5" x2="943" y2="1813.5"/><line x1="122" y1="1786" x2="943" y2="1786"/>
</g>
<g stroke="#b9bec7" stroke-width="1.2"><line x1="165" y1="1786" x2="165" y2="2108"/><line x1="386" y1="1786" x2="386" y2="2108"/><line x1="614" y1="1786" x2="614" y2="2108"/><line x1="834" y1="1786" x2="834" y2="2108"/></g>
<line x1="122" y1="2088" x2="943" y2="2088" stroke="#d3d7de" stroke-width="2"/>
<g fill="#6190a2" stroke="#fff" stroke-width="1.5">
<rect x="277" y="2060.5" width="50" height="27.5"/><rect x="328" y="1895.8" width="51" height="192.2"/><rect x="380" y="1813.5" width="50" height="274.5"/><rect x="431" y="1786" width="50" height="302"/><rect x="482" y="1868.4" width="50" height="219.6"/><rect x="533" y="1950.7" width="51" height="137.3"/><rect x="585" y="1978.2" width="50" height="109.8"/><rect x="636" y="1950.7" width="51" height="137.3"/><rect x="688" y="1923.3" width="50" height="164.7"/><rect x="739" y="1923.3" width="51" height="164.7"/><rect x="791" y="1978.2" width="50" height="109.8"/><rect x="842" y="2033.1" width="50" height="54.9"/><rect x="893" y="2005.6" width="50" height="82.4"/>
</g>
<g font-size="17" fill="#69707d" text-anchor="end">
<text x="106" y="2094">0</text><text x="106" y="2066.5">1</text><text x="106" y="2039">2</text><text x="106" y="2011.6">3</text><text x="106" y="1984">4</text><text x="106" y="1956.7">5</text><text x="106" y="1929">6</text><text x="106" y="1901.8">7</text><text x="106" y="1874.4">8</text><text x="106" y="1847">9</text><text x="106" y="1819.5">10</text><text x="106" y="1792">11</text>
</g>
<g font-size="17" fill="#69707d">
<text x="169" y="2107">September</text><text x="390" y="2107">October</text><text x="617" y="2107">November</text><text x="837" y="2107">December</text><text x="125" y="2124">2021</text>
</g>
<text x="532" y="2158" font-size="20" font-weight="bold" text-anchor="middle" fill="#1a1c21">timestamp per 7 days</text>
<text transform="translate(54,1937) rotate(-90)" font-size="20" font-weight="bold" text-anchor="middle" fill="#1a1c21">Surveys</text>
<rect x="12" y="2184" width="268" height="50" rx="6" fill="#000"/>
<circle cx="45" cy="2200" r="8" fill="#f0c23a"/><circle cx="35" cy="2212" r="6" fill="#3c8ee0"/><circle cx="50" cy="2213" r="6" fill="#2a6fc9"/><circle cx="43" cy="2222" r="8" fill="#45b5a8"/><circle cx="36" cy="2201" r="4" fill="#e8488a"/><circle cx="37" cy="2224" r="4" fill="#8bc34a"/>
<text x="75" y="2216" font-size="20" fill="#dfe5ef">Exit full screen</text>
<rect x="243" y="2199" width="21" height="21" rx="2" fill="none" stroke="#dfe5ef" stroke-width="1.8"/>
<rect x="248" y="2204" width="11" height="11" fill="none" stroke="#dfe5ef" stroke-width="1.2" stroke-dasharray="3,3"/>

<!-- ============ TABLE ============ -->
<text x="1044" y="1737" font-size="19" font-weight="bold" fill="#1a1c21">Buildings count by type and number of floors</text>
<rect x="1044" y="2043" width="898" height="135" fill="#f7f8fc"/>
<g stroke="#d3dae6" stroke-width="1.3"><line x1="1044" y1="1763" x2="1942" y2="1763"/><line x1="1044" y1="1871" x2="1942" y2="1871"/><line x1="1044" y1="1928" x2="1942" y2="1928"/><line x1="1044" y1="1985" x2="1942" y2="1985"/><line x1="1044" y1="2042" x2="1942" y2="2042"/></g>
<g stroke="#eef1f6"><line x1="1267" y1="1813" x2="1267" y2="2042"/><line x1="1492" y1="1813" x2="1492" y2="2042"/><line x1="1717" y1="1813" x2="1717" y2="2042"/></g>
<rect x="1044" y="1809" width="898" height="4" fill="#343741"/>
<g font-size="22" font-weight="bold">
<text x="1056" y="1795">Type</text>
<text x="1456" y="1795" text-anchor="end">1 › Count</text>
<text x="1681" y="1795" text-anchor="end">2 › Count</text>
<text x="1906" y="1795" text-anchor="end">&gt;3 › Count</text>
</g>
<g fill="none" stroke="#343741" stroke-width="1.6"><path d="M1244,1783 l6,6 l6,-6"/><path d="M1467,1783 l5,5 l5,-5"/><path d="M1692,1783 l5,5 l5,-5"/><path d="M1917,1783 l5,5 l5,-5"/></g>
<g font-size="22">
<text x="1056" y="1851">Building</text><text x="1056" y="1908">Flat roof</text><text x="1056" y="1965">Slooping roof</text><text x="1056" y="2022">Unknown roof</text>
</g>
<g font-size="22" text-anchor="end">
<text x="1480" y="1851">4,768</text><text x="1705" y="1851">701</text><text x="1929" y="1851">94</text>
<text x="1480" y="1908">3,290</text><text x="1705" y="1908">390</text><text x="1929" y="1908">61</text>
<text x="1480" y="1965">2,658</text><text x="1705" y="1965">296</text><text x="1929" y="1965">29</text>
<text x="1480" y="2022">15</text><text x="1705" y="2022">-</text><text x="1929" y="2022">-</text>
</g>

<!-- ============ HEATMAP ============ -->
<text x="1981" y="1737" font-size="19" font-weight="bold" fill="#1a1c21">Earthquake count by depth (km) and magnitude</text>
<g id="heat"></g>
<g font-size="18" fill="#69707d" text-anchor="end">
<text x="2086" y="1800">0.5 → 1</text><text x="2086" y="1839">1 → 1.5</text><text x="2086" y="1878">1.5 → 2</text><text x="2086" y="1916">2 → 2.5</text><text x="2086" y="1955">2.5 → 3</text><text x="2086" y="1994">3 → 3.5</text><text x="2086" y="2032">3.5 → 4</text><text x="2086" y="2071">4 → 4.5</text><text x="2086" y="2110">4.5 → +∞</text>
</g>
<g font-size="18" fill="#69707d" text-anchor="middle">
<text x="2143" y="2152">0</text><text x="2229" y="2152">5</text><text x="2315" y="2152">10</text><text x="2402" y="2152">15</text><text x="2488" y="2152">20</text><text x="2574" y="2152">25</text><text x="2660" y="2152">30</text><text x="2746" y="2152">35</text><text x="2833" y="2152">40</text><text x="2919" y="2152">45</text>
</g>
<g><circle cx="2983" cy="1793" r="7" fill="#d8ede9"/><circle cx="2983" cy="1828" r="7" fill="#b4dcd8"/><circle cx="2983" cy="1863" r="7" fill="#7aaab6"/><circle cx="2983" cy="1898" r="7" fill="#5f8fa2"/><circle cx="2983" cy="1933" r="7" fill="#4a718a"/><circle cx="2983" cy="1969" r="7" fill="#34536d"/></g>
<g font-size="19">
<text x="3002" y="1800">1 - 10</text><text x="3002" y="1835">10 - 50</text><text x="3002" y="1870">50 - 100</text><text x="3002" y="1905">100 - 500</text><text x="3002" y="1940">500 - 2,000</text><text x="3002" y="1976">≥ 2,000</text>
</g>

<!-- ============ DEPTH CHART ============ -->
<text x="3172" y="1737" font-size="19" font-weight="bold" fill="#1a1c21">Earthquakes depth over time</text>
<rect x="3273" y="1786" width="5" height="302" fill="#e3e6eb"/>
<line x1="4004" y1="1786" x2="4004" y2="2088" stroke="#e3e6eb" stroke-width="2"/>
<g stroke="#dcdfe5" stroke-width="2" stroke-dasharray="5,6">
<line x1="3278" y1="2064.6" x2="4004" y2="2064.6"/><line x1="3278" y1="2041.3" x2="4004" y2="2041.3"/><line x1="3278" y1="2017.9" x2="4004" y2="2017.9"/><line x1="3278" y1="1994.6" x2="4004" y2="1994.6"/><line x1="3278" y1="1971.2" x2="4004" y2="1971.2"/><line x1="3278" y1="1947.8" x2="4004" y2="1947.8"/><line x1="3278" y1="1924.5" x2="4004" y2="1924.5"/><line x1="3278" y1="1901.1" x2="4004" y2="1901.1"/><line x1="3278" y1="1877.8" x2="4004" y2="1877.8"/><line x1="3278" y1="1854.4" x2="4004" y2="1854.4"/><line x1="3278" y1="1831" x2="4004" y2="1831"/><line x1="3278" y1="1807.7" x2="4004" y2="1807.7"/>
</g>
<path transform="matrix(0.6084,0,0,0.3482,3140,1700)" d="M330,712 L340,722 L352,723 L363,752 L375,753 L390,795 L408,845 L420,875 L433,910 L445,945 L456,972 L467,988 L478,995 L490,970 L500,935 L510,880 L518,850 L525,828 L535,853 L545,822 L558,800 L570,790 L580,773 L592,680 L605,677 L615,658 L628,650 L638,637 L650,648 L662,635 L672,615 L683,592 L695,605 L710,603 L720,598 L730,590 L740,597 L752,588 L762,547 L773,550 L785,578 L795,603 L807,617 L820,666 L832,668 L843,692 L853,690 L865,662 L876,665 L888,677 L898,670 L910,658 L920,685 L933,692 L945,695 L957,690 L968,683 L980,677 L990,670 L1003,652 L1014,653 L1025,667 L1035,578 L1047,548 L1058,460 L1070,385 L1083,320 L1095,345 L1105,365 L1117,447 L1127,445 L1140,472 L1150,468 L1162,385 L1173,268 L1185,247 L1195,253 L1208,307 L1218,278 L1230,372 L1242,455 L1253,488 L1265,517 L1278,645 L1288,682 L1300,683 L1312,682 L1322,682 L1333,660 L1345,610 L1357,578 L1367,580 L1378,562 L1388,562 L1400,578 L1412,645 L1412,1113 L330,1113 Z" fill="#d3deeb"/>
<g stroke="#b9bec7" stroke-width="1.2"><line x1="3279" y1="1786" x2="3279" y2="2108"/><line x1="3486" y1="1786" x2="3486" y2="2108"/><line x1="3701" y1="1786" x2="3701" y2="2108"/><line x1="3910" y1="1786" x2="3910" y2="2108"/></g>
<path transform="matrix(0.6084,0,0,0.3482,3140,1700)" d="M330,712 L340,722 L352,723 L363,752 L375,753 L390,795 L408,845 L420,875 L433,910 L445,945 L456,972 L467,988 L478,995 L490,970 L500,935 L510,880 L518,850 L525,828 L535,853 L545,822 L558,800 L570,790 L580,773 L592,680 L605,677 L615,658 L628,650 L638,637 L650,648 L662,635 L672,615 L683,592 L695,605 L710,603 L720,598 L730,590 L740,597 L752,588 L762,547 L773,550 L785,578 L795,603 L807,617 L820,666 L832,668 L843,692 L853,690 L865,662 L876,665 L888,677 L898,670 L910,658 L920,685 L933,692 L945,695 L957,690 L968,683 L980,677 L990,670 L1003,652 L1014,653 L1025,667 L1035,578 L1047,548 L1058,460 L1070,385 L1083,320 L1095,345 L1105,365 L1117,447 L1127,445 L1140,472 L1150,468 L1162,385 L1173,268 L1185,247 L1195,253 L1208,307 L1218,278 L1230,372 L1242,455 L1253,488 L1265,517 L1278,645 L1288,682 L1300,683 L1312,682 L1322,682 L1333,660 L1345,610 L1357,578 L1367,580 L1378,562 L1388,562 L1400,578 L1412,645" fill="none" stroke="#5f88bb" stroke-width="3.5" stroke-linejoin="round" vector-effect="non-scaling-stroke"/>
<line x1="3278" y1="2088" x2="4004" y2="2088" stroke="#d3d7de" stroke-width="2"/>
<g fill="#fff" stroke="#5f88bb" stroke-width="2.5"><circle cx="3313" cy="1925" r="7"/><circle cx="3327" cy="1953" r="7"/></g>
<g font-size="17" fill="#69707d" text-anchor="end">
<text x="3256" y="2094">0</text><text x="3256" y="2070.6">2</text><text x="3256" y="2047.3">4</text><text x="3256" y="2024">6</text><text x="3256" y="2000.6">8</text><text x="3256" y="1977.2">10</text><text x="3256" y="1953.8">12</text><text x="3256" y="1930.5">14</text><text x="3256" y="1907">16</text><text x="3256" y="1883.8">18</text><text x="3256" y="1860.4">20</text><text x="3256" y="1837">22</text><text x="3256" y="1813.7">24</text>
</g>
<g font-size="17" fill="#69707d">
<text x="3282" y="2107">September</text><text x="3489" y="2107">October</text><text x="3704" y="2107">November</text><text x="3913" y="2107">December</text><text x="3275" y="2124">2021</text>
</g>
<text x="3639" y="2158" font-size="20" font-weight="bold" text-anchor="middle" fill="#1a1c21">timestamp per day</text>
<text transform="translate(3203,1937) rotate(-90)" font-size="20" font-weight="bold" text-anchor="middle" fill="#1a1c21">Moving average of depth (km)</text>
</svg>

<script>
(function(){
var NS='http://www.w3.org/2000/svg';
function el(tag,a,p){var e=document.createElementNS(NS,tag);for(var k in a)e.setAttribute(k,a[k]);p.appendChild(e);return e;}
function rng(a){return function(){a|=0;a=a+0x6D2B79F5|0;var t=Math.imul(a^a>>>15,1|a);t=t+Math.imul(t^t>>>7,61|t)^t;return((t^t>>>14)>>>0)/4294967296;};}
function inPoly(x,y,p){var c=false;for(var i=0,j=p.length-1;i<p.length;j=i++){var xi=p[i][0],yi=p[i][1],xj=p[j][0],yj=p[j][1];if(((yi>y)!=(yj>y))&&(x<(xj-xi)*(y-yi)/(yj-yi)+xi))c=!c;}return c;}

/* satellite texture (zoom coords) */
var g=document.getElementById('sat'),R=rng(3);
var sc=['#2a3427','#3c4838','#4a5744','#56624f','#303b2d','#444f3c'];
for(var i=0;i<700;i++){var x=140+R()*1430,y=55+R()*1510;el('rect',{x:x.toFixed(0),y:y.toFixed(0),width:(12+R()*50).toFixed(0),height:(15+R()*70).toFixed(0),fill:sc[Math.floor(R()*sc.length)],opacity:'.55'},g);}
var fc=['#6d7866','#828c7c','#5a6652','#909a8a'];
for(i=0;i<160;i++){var x=420+R()*520,y=1250+R()*320;el('rect',{x:x.toFixed(0),y:y.toFixed(0),width:(15+R()*40).toFixed(0),height:(20+R()*50).toFixed(0),fill:fc[Math.floor(R()*fc.length)],opacity:'.7'},g);}
for(i=0;i<140;i++){var x=160+R()*560,y=60+R()*190;el('rect',{x:x.toFixed(0),y:y.toFixed(0),width:(12+R()*35).toFixed(0),height:(15+R()*40).toFixed(0),fill:fc[Math.floor(R()*fc.length)],opacity:'.45'},g);}

/* drone land texture */
g=document.getElementById('dtex');R=rng(5);
var dpoly=[[300,280],[993,262],[1112,291],[1127,461],[1166,1071],[993,1090],[569,1271],[559,1414],[380,1440],[350,1000],[340,700],[290,430]];
var dc=['#8d8c84','#5c5d55','#a9a8a0','#6e6f66','#b8b7ae','#4f5548'];
var n=0,tr=0;while(n<380&&tr<5000){tr++;var x=280+R()*900,y=260+R()*1180;if(!inPoly(x,y,dpoly))continue;el('rect',{x:x.toFixed(0),y:y.toFixed(0),width:(8+R()*28).toFixed(0),height:(10+R()*30).toFixed(0),fill:dc[Math.floor(R()*dc.length)],opacity:'.5'},g);n++;}

/* center map dots */
g=document.getElementById('cdots');R=rng(11);
var poly=[[600,300],[720,270],[800,330],[900,350],[1000,420],[1080,480],[1150,560],[1250,600],[1270,720],[1230,800],[1150,900],[1100,1000],[1040,1030],[900,1000],[800,1050],[700,1080],[650,1130],[620,1110],[640,1000],[580,960],[500,930],[520,860],[600,800],[640,700],[600,620],[560,560],[580,450],[620,380]];
var cc=['#5a7cab','#5a7cab','#5a7cab','#6386b5','#5a9aa1','#5a9aa1','#a3678b','#8c6a98'];
n=0;tr=0;
while(n<1400&&tr<30000){tr++;var zx=540+R()*760,zy=260+R()*880;if(!inPoly(zx,zy,poly))continue;
el('circle',{cx:(770+zx*1.1992).toFixed(1),cy:(zy*0.7462).toFixed(1),r:(7.5+R()*3).toFixed(1),fill:cc[Math.floor(R()*cc.length)],stroke:'#1b2230','stroke-width':'1.6'},g);n++;}

/* right map dots */
g=document.getElementById('rdots');R=rng(7);
function rd(zx,zy,col,r){el('circle',{cx:(2640+zx*0.9273).toFixed(1),cy:(zy*0.7462).toFixed(1),r:r,fill:col,stroke:'rgba(70,55,30,.6)','stroke-width':'1.2'},g);}
var rc=['#d8c15c','#d8c15c','#d8c15c','#e2a36d','#e2a36d','#e2a36d','#dd7d66','#dd7d66','#a6c99b','#5fa795'];
for(i=0;i<240;i++){var x=650+(1-Math.pow(R(),1.6))*910,y=1000+(1-Math.pow(R(),1.5))*570;if(y<1040&&x>860){continue;}rd(x,y,rc[Math.floor(R()*rc.length)],(5+R()*R()*10).toFixed(1));}
var sp=[[660,170,'#d8c15c',14],[285,515,'#d8c15c',6],[43,953,'#e2a36d',8],[300,947,'#dd7d66',8],[375,897,'#d8c15c',9],[460,1100,'#e2a36d',9],[627,827,'#a6c99b',6],[655,840,'#e2a36d',7],[855,640,'#d8c15c',8],[858,897,'#e2a36d',6],[1290,957,'#d8c15c',6],[1234,960,'#d8c15c',6],[1185,1018,'#e2a36d',7],[1035,1050,'#e2a36d',7],[533,1278,'#e2a36d',8],[433,1352,'#d8c15c',8],[398,1440,'#e2a36d',9],[533,1405,'#d8c15c',9],[583,1450,'#e2a36d',8],[1408,1412,'#e07a66',20],[1425,1480,'#e07a66',18],[740,1073,'#d8c15c',7],[245,1388,'#dd7d66',4],[1545,97,'#dd7d66',6],[1500,1095,'#dd7d66',9],[1490,990,'#dd7d66',7]];
sp.forEach(function(s){rd(s[0],s[1],s[2],s[3]);});
[[805,463],[866,545],[950,665],[808,728],[898,789],[779,823],[900,855],[970,538]].forEach(function(s){rd(s[0],s[1],'#dd7d66',3);});

/* area chart bars */
g=document.getElementById('abars');
var ab=[[0,2700],[4,44],[5,220],[6,360],[7,425],[8,1150],[9,170],[10,505],[11,235],[12,147],[14,147],[15,68],[16,82],[17,132],[18,59],[19,294],[20,470],[21,82],[22,235],[23,570],[24,218],[25,229],[27,88],[28,165],[29,340],[30,244],[31,503],[32,74],[33,24],[35,88],[37,94],[38,403],[41,512],[42,118],[45,74],[46,6],[49,79],[50,6],[58,6],[60,6],[61,6],[63,82],[64,24],[65,59],[67,18],[70,185],[71,132],[72,15],[74,18],[78,340],[83,74],[84,103],[85,29]];
ab.forEach(function(b){var x=1216+14.93*b[0],h=b[1]*0.11958,t=1595-h;if(t<1302){t=1302;h=293;}el('rect',{x:x.toFixed(1),y:t.toFixed(1),width:'13.8',height:h.toFixed(1),fill:'#b29f80'},g);});

/* eq count bars */
g=document.getElementById('ebars');
var tot=[2,0,0,0,0,1,1,1,0,3,30,343,275,250,90,70,60,203,97,8,15,5,3,5,5,16,2,20,21,12,23,45,60,84,38,82,95,73,145,140,72,73,108,82,90,86,95,59,76,127,145,135,145,287,195,143,178,209,164,76,126,169,131,133,55,20,38,67,76,118,97,24,30,37,33,35,175,275,42,66,55,76,100,75,28,48,65,90,130,255,365,252,90,45,40,28,40,35,40,18,45,25,16,127,32,32];
var sep={10:[2,28,0,0],11:[5,115,210,13],12:[5,117,140,13],13:[8,134,106,2],14:[3,68,17,2],15:[0,47,21,2],16:[0,50,8,2],17:[3,136,63,1],18:[0,29,65,3]};
var ec=['#6a8fc0','#92acd3','#c0cfe3','#eec6a0','#e2906f','#d6604d'];
for(var d=0;d<tot.length;d++){var v=tot[d];if(!v)continue;var parts;
if(sep[d])parts=sep[d].concat([0]);else if(d<10)parts=[0,v,0,0,0];else if(d==103)parts=[0,60,62,5,0];else if(d>103)parts=[0,12,18,2,0];
else{var red=v>=120?3:0,lb=Math.round(v*0.68);parts=[0,0,lb,v-lb-red,red];}
var y=1595,x=2781+10.45*d;
for(var k=0;k<parts.length;k++){var h=parts[k]*0.953;if(h<=0)continue;el('rect',{x:x.toFixed(1),y:(y-h).toFixed(1),width:'9.4',height:h.toFixed(1),fill:ec[k]},g);y-=h;}}

/* heatmap */
g=document.getElementById('heat');
var H=[[1,1,1,0,0,0,0,0,0,0],[3,3,3,0,0,0,0,0,0,0],[4,4,4,1,0,0,0,0,0,0],[3,4,5,2,1,1,2,2,0,0],[2,4,6,3,2,2,4,4,1,1],[1,3,5,2,1,2,4,4,2,0],[1,2,4,1,0,1,2,3,1,0],[0,0,2,0,0,0,1,2,1,0],[0,0,0,0,0,0,1,2,0,0]];
var hc=['#ffffff','#d8ede9','#b4dcd8','#7aaab6','#5f8fa2','#4a718a','#34536d'];
for(var r=0;r<9;r++)for(var c=0;c<10;c++){el('rect',{x:(2100+86.2*c).toFixed(1),y:(1775+38.67*r).toFixed(1),width:'86.2',height:'38.67',fill:hc[H[r][c]],stroke:'#eceff3','stroke-width':'1.5'},g);}
})();
</script>
</body></html>
